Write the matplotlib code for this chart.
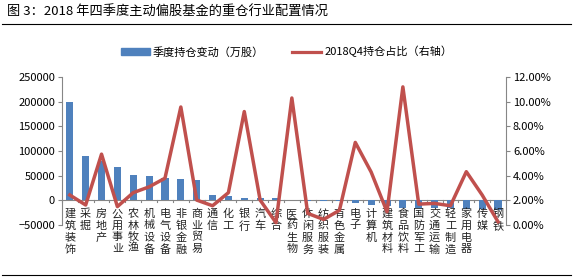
import matplotlib
matplotlib.use("Agg")
import matplotlib.pyplot as plt
import numpy as np
from matplotlib.lines import Line2D

plt.rcParams['font.family'] = ['Noto Sans CJK SC', 'DejaVu Sans']

industries = ["建筑装饰", "采掘", "房地产", "公用事业", "农林牧渔", "机械设备", "电气设备",
              "非银金融", "商业贸易", "通信", "化工", "银行", "汽车", "综合", "医药生物",
              "休闲服务", "纺织服装", "有色金属", "电子", "计算机", "建筑材料", "食品饮料",
              "国防军工", "交通运输", "轻工制造", "家用电器", "传媒", "钢铁"]
change = [200000, 90000, 80000, 67000, 51000, 49000, 45000, 43500, 41000, 10000, 8000,
          5000, 4000, 5000, 1000, -1000, -2000, -2000, -5000, -10000, -12000, -15500,
          -15500, -15500, -15500, -17500, -17500, -19000]
share = [2.44, 1.63, 5.75, 1.50, 2.63, 3.10, 3.80, 9.57, 2.03, 1.57, 2.63, 9.20, 2.03,
         0.20, 10.30, 0.95, 0.46, 1.20, 6.70, 4.30, 1.08, 11.20, 1.70, 1.76, 1.57, 4.33,
         2.44, 0.27]

blue = "#4F81BD"
red = "#C0504D"
grey = "#868686"

fig = plt.figure(figsize=(5.73, 2.8), dpi=100)
ax = fig.add_axes([0.108, 0.196, 0.775, 0.529])
x = np.arange(len(industries))
ax.bar(x, change, width=0.45, color=blue, zorder=2)
ax.set_xlim(-0.5, len(industries) - 0.5)
ax.set_ylim(-50000, 250000)
ax.set_yticks(range(-50000, 250001, 50000))
ax.tick_params(axis='y', labelsize=8, length=3, color=grey, pad=2)
for s in ["top", "right", "bottom"]:
    ax.spines[s].set_visible(False)
ax.spines["left"].set_color(grey)
ax.axhline(0, color=grey, lw=0.8, zorder=1)
ax.set_xticks([])
# boundary ticks on zero line
for b in np.arange(-0.5, len(industries), 1.0):
    ax.plot([b, b], [0, -3500], color=grey, lw=0.8, clip_on=False)
for i, name in enumerate(industries):
    ax.annotate("\n".join(name), (i, 0), xytext=(0, -6), textcoords='offset points',
                ha='center', va='top', fontsize=8, linespacing=1.2, color="#222222")

ax2 = ax.twinx()
ax2.plot(x, share, color=red, lw=2.5, zorder=3)
ax2.set_ylim(0, 12)
ax2.set_yticks(range(0, 13, 2))
ax2.set_yticklabels(["%.2f%%" % v for v in range(0, 13, 2)])
ax2.tick_params(axis='y', labelsize=8, length=3, color=grey, pad=2)
for s in ["top", "left", "bottom"]:
    ax2.spines[s].set_visible(False)
ax2.spines["right"].set_color(grey)

fig.text(0.012, 0.955, "图 3：2018 年四季度主动偏股基金的重仓行业配置情况", fontsize=9.5,
         va='center', ha='left')
fig.add_artist(Line2D([0.003, 0.997], [0.913, 0.913], color="black", lw=0.8))
fig.add_artist(Line2D([0.003, 0.997], [0.018, 0.018], color="black", lw=0.8))

handles = [plt.Rectangle((0, 0), 1, 1, color=blue), Line2D([], [], color=red, lw=2.3)]
fig.legend(handles, ["季度持仓变动（万股）", "2018Q4持仓占比（右轴）"], loc='center',
           bbox_to_anchor=(0.5, 0.815), ncol=2, frameon=False, fontsize=8,
           handlelength=2.6, handleheight=0.5, columnspacing=2.5, handletextpad=0.3)

fig.savefig("out.png", dpi=100)
